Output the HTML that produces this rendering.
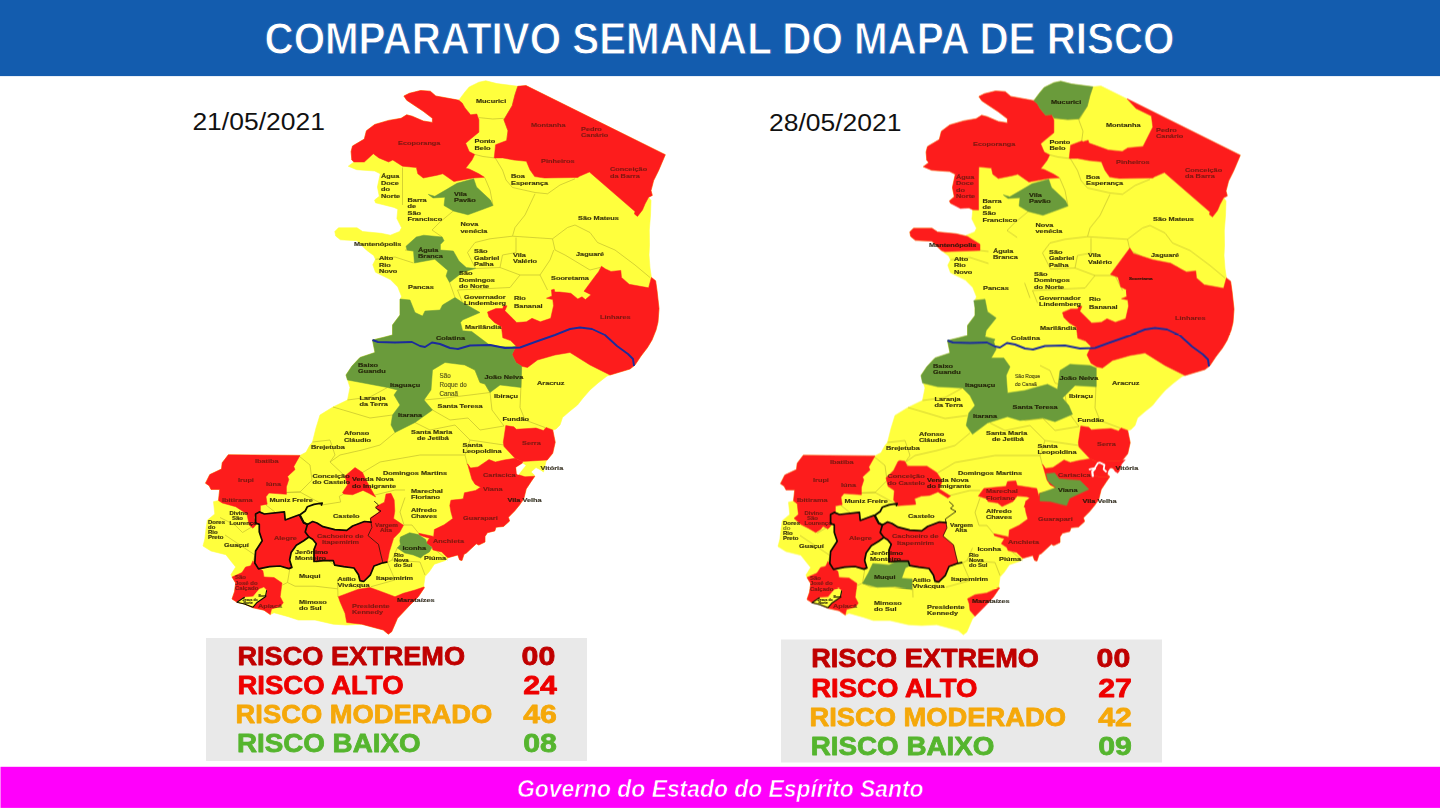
<!DOCTYPE html>
<html><head><meta charset="utf-8"><title>Comparativo Semanal do Mapa de Risco</title>
<style>
html,body{margin:0;padding:0;background:#fff;}
body{width:1440px;height:810px;overflow:hidden;font-family:"Liberation Sans",sans-serif;}
svg{display:block}
</style></head><body>
<svg width="1440" height="810" viewBox="0 0 1440 810">
<rect width="1440" height="810" fill="#ffffff"/>
<rect x="0" y="0" width="1440" height="76.1" fill="#135cae"/>
<text x="264.5" y="53.8" font-family="Liberation Sans, sans-serif" font-weight="bold" font-size="45" fill="#ffffff" stroke="#135cae" stroke-width="0.9" textLength="910" lengthAdjust="spacingAndGlyphs">COMPARATIVO SEMANAL DO MAPA DE RISCO</text>
<text x="192.4" y="130.3" font-family="Liberation Sans, sans-serif" font-size="23.5" fill="#111" textLength="132.5" lengthAdjust="spacingAndGlyphs">21/05/2021</text>
<text x="769" y="131.1" font-family="Liberation Sans, sans-serif" font-size="23.5" fill="#111" textLength="132.5" lengthAdjust="spacingAndGlyphs">28/05/2021</text>
<defs><filter id="soft" x="-2%" y="-2%" width="104%" height="104%"><feGaussianBlur stdDeviation="0.45"/></filter></defs>
<g id="map1" filter="url(#soft)">
<path d="M458.8,100.2 L465.0,91.9 L469.2,87.0 L478.9,82.2 L485.8,80.8 L496.9,83.6 L517.8,86.3 L526.0,85.6 L665.3,154.7 L658.5,170.7 L653.6,180.6 L651.0,190.5 L652.3,195.4 L648.6,197.3 L651.0,200.4 L650.5,215.0 L649.3,230.0 L649.5,245.0 L649.0,255.0 L650.0,268.0 L651.4,277.4 L655.6,280.8 L657.0,290.6 L659.0,308.6 L658.0,322.0 L656.0,330.0 L652.0,340.0 L647.5,347.5 L641.0,356.0 L635.0,365.0 L630.0,369.0 L620.0,372.0 L610.0,375.0 L607.0,376.0 L598.0,383.0 L590.0,390.0 L583.0,398.0 L577.5,405.0 L570.0,411.0 L562.5,417.5 L560.0,425.0 L556.0,429.0 L552.7,429.9 L555.2,442.2 L552.7,453.3 L547.2,460.0 L546.0,461.4 L543.5,471.9 L539.8,469.4 L536.0,467.5 L531.0,471.9 L533.6,474.3 L534.8,476.2 L531.0,481.7 L526.2,489.0 L523.7,499.0 L519.5,505.0 L514.6,511.0 L508.4,517.3 L509.6,521.0 L503.5,526.5 L496.0,527.2 L494.8,530.9 L487.4,532.7 L485.0,536.4 L485.0,542.0 L478.8,545.0 L476.3,543.8 L466.4,553.0 L464.0,554.3 L462.0,560.5 L459.6,559.9 L457.8,555.0 L449.0,557.4 L445.4,560.5 L434.3,564.2 L429.4,571.6 L425.0,576.5 L423.8,585.2 L424.4,587.7 L418.3,596.7 L410.0,605.0 L397.5,618.3 L391.7,631.7 L388.3,634.2 L383.3,630.0 L361.7,624.2 L346.7,625.0 L333.3,624.2 L315.0,620.0 L298.3,620.0 L288.3,616.7 L274.0,612.7 L270.3,614.6 L264.0,610.2 L253.0,607.8 L244.4,604.0 L237.0,602.2 L232.0,599.0 L234.5,591.7 L235.7,583.0 L232.0,577.0 L231.0,574.5 L235.7,567.0 L230.8,560.9 L225.9,554.7 L211.0,551.0 L203.0,546.0 L204.9,538.8 L206.0,529.0 L207.3,520.2 L214.8,514.0 L213.5,501.7 L218.5,500.5 L219.7,489.4 L211.0,489.4 L209.2,485.7 L205.5,483.2 L209.8,474.6 L221.5,469.0 L222.2,462.8 L228.3,454.8 L300.0,455.4 L306.0,452.3 L310.0,445.0 L312.5,442.0 L316.0,428.0 L320.0,415.0 L333.0,407.0 L347.5,400.0 L350.0,387.5 L346.0,375.0 L352.0,366.0 L360.0,357.5 L375.0,352.5 L372.5,340.0 L383.0,337.5 L392.5,335.0 L392.5,325.0 L400.0,315.0 L400.0,300.0 L401.5,296.3 L397.8,287.0 L390.4,279.6 L375.5,272.2 L372.8,264.8 L375.5,259.3 L373.7,255.5 L366.3,250.0 L357.0,240.7 L340.4,239.8 L335.7,236.0 L334.8,231.5 L338.5,227.8 L357.0,227.8 L362.6,231.5 L381.0,233.3 L390.4,235.2 L399.6,231.5 L401.5,227.8 L396.9,218.5 L397.8,209.3 L394.0,207.4 L375.5,202.8 L374.6,200.0 L379.3,196.3 L377.4,187.0 L380.3,173.8 L374.7,171.0 L356.7,169.7 L348.3,166.2 L353.9,162.0 L351.8,160.0 L351.1,151.6 L352.5,146.0 L364.3,139.1 L366.4,130.8 L374.7,124.5 L388.6,120.4 L401.1,118.3 L406.7,114.8 L412.2,116.2 L423.3,121.0 L432.4,122.4 L432.4,118.3 L423.3,111.3 L415.0,105.8 L406.7,100.2 L403.9,96.0 L409.4,93.3 L420.6,90.5 L430.3,91.2 L435.8,96.0 L451.1,98.8 Z" fill="#ffff3e" stroke="#ffff3e" stroke-width="0.6"/>
<g fill="none" stroke="#b9b42a" stroke-width="0.7" opacity="0.85"><path d="M474.7,154.4 L483.0,156.5 L494.2,157.9"/>
<path d="M478.9,117.6 L492.8,119.0 L503.9,118.3"/>
<path d="M517.8,86.3 L515.0,94.7 L512.2,105.8 L503.9,119.7 L508.0,130.8 L506.7,140.5"/>
<path d="M495.0,157.5 L502.5,170.0 L506.0,180.0 L512.5,187.5 L535.0,192.5 L547.5,193.8 L560.0,185.0 L575.0,178.8"/>
<path d="M535.0,193.8 L525.0,215.0 L515.0,227.5 L512.5,236.2"/>
<path d="M512.5,236.2 L490.0,238.8 L475.0,242.5 L467.5,252.5"/>
<path d="M512.5,236.2 L552.5,238.8 L567.5,227.5 L575.0,225.0 L590.0,232.5 L597.5,242.5 L615.0,250.0 L635.0,265.0 L650.0,277.5"/>
<path d="M552.5,238.8 L555.0,250.0 L565.0,255.0 L590.0,270.0 L600.0,267.5"/>
<path d="M516.0,237.5 L516.0,252.5 L502.5,255.0 L500.0,267.5"/>
<path d="M402.5,167.5 L402.5,205.0"/>
<path d="M484.8,177.8 L490.0,190.0 L493.0,205.5"/>
<path d="M453.3,211.0 L440.0,222.0 L432.0,230.0 L442.2,237.0"/>
<path d="M467.5,252.5 L475.5,268.5 L500.0,267.5 L520.0,275.0 L540.0,275.0 L550.0,260.0 L553.8,250.0"/>
<path d="M457.5,290.0 L510.0,287.5 L520.0,275.0"/>
<path d="M540.0,275.0 L547.5,290.0"/>
<path d="M449.6,282.4 L455.0,297.5"/>
<path d="M457.5,290.0 L462.5,302.5"/>
<path d="M405.0,250.0 L413.5,251.0"/>
<path d="M375.5,259.3 L395.0,257.0 L413.5,263.0"/>
<path d="M521.0,367.5 L521.0,385.0 L520.0,407.5 L525.0,420.0 L545.0,427.5"/>
<path d="M490.0,392.5 L492.0,410.0 L504.0,426.0"/>
<path d="M465.0,365.0 L475.0,370.0 L480.0,382.5 L485.0,384.0 L490.0,392.5"/>
<path d="M424.0,400.0 L445.0,398.0 L470.0,395.0 L490.0,392.5"/>
<path d="M432.5,410.0 L450.0,420.0 L468.0,418.0 L480.0,430.0 L504.0,426.0"/>
<path d="M347.5,400.0 L370.0,397.0 L387.5,387.5"/>
<path d="M392.5,415.0 L370.0,418.0 L350.0,412.0 L333.0,407.0"/>
<path d="M395.0,432.5 L380.0,445.0 L362.0,450.0 L340.0,455.0 L330.0,462.0"/>
<path d="M415.0,422.5 L430.0,430.0 L455.0,425.0 L470.0,440.0 L504.0,445.0"/>
<path d="M312.5,442.0 L330.0,440.0 L335.0,455.0 L330.0,462.0 L345.0,476.0"/>
<path d="M470.0,440.0 L465.0,455.0 L467.5,465.0"/>
<path d="M299.0,456.0 L310.0,465.0 L312.0,480.0 L300.0,492.0 L285.0,492.5"/>
<path d="M362.5,472.5 L380.0,462.0 L420.0,455.0 L465.0,455.0"/>
<path d="M375.0,495.0 L395.0,490.0 L405.0,490.0"/>
<path d="M405.0,497.5 L400.0,512.0 L404.0,525.0"/>
<path d="M465.0,497.5 L450.0,505.0"/>
<path d="M420.0,535.0 L412.0,525.0 L404.0,525.0"/>
<path d="M432.5,547.5 L447.5,560.0"/>
<path d="M397.5,547.5 L392.0,560.0 L387.5,562.5"/>
<path d="M392.0,560.0 L420.0,562.0 L425.0,575.0"/>
<path d="M387.5,562.5 L395.0,580.0 L371.0,586.7"/>
<path d="M363.5,581.0 L355.5,588.6"/>
<path d="M290.0,567.5 L287.5,582.5 L282.5,585.0"/>
<path d="M316.0,562.5 L327.5,560.0 L335.0,565.5"/>
<path d="M337.5,578.8 L338.0,597.0"/>
<path d="M287.5,582.5 L295.0,586.2 L315.0,586.2 L337.5,588.8"/>
<path d="M266.0,505.0 L285.0,520.0"/>
<path d="M255.0,525.0 L242.5,532.5 L235.0,525.0 L220.0,517.5"/>
<path d="M225.0,535.0 L240.0,545.0 L255.0,555.0"/>
<path d="M252.5,562.5 L255.0,555.0"/>
<path d="M285.0,492.5 L300.0,492.0 L321.0,503.5"/>
<path d="M232.0,470.0 L262.0,475.0 L266.0,490.0"/>
<path d="M262.0,475.0 L275.0,460.0"/>
<path d="M246.0,495.0 L267.5,494.0"/>
<path d="M321.5,505.0 L330.0,503.7 L340.7,502.0 L339.3,496.3 L343.7,494.0"/></g>
<path d="M458.8,100.2 L462.2,103.0 L465.0,107.9 L470.6,114.8 L476.8,114.0 L478.9,119.7 L478.9,132.2 L470.6,139.0 L465.7,143.3 L469.2,151.6 L474.7,154.4 L472.0,160.0 L465.7,168.3 L469.2,169.0 L478.9,173.8 L484.4,177.3 L473.3,178.0 L453.9,181.5 L442.8,173.8 L437.2,175.2 L423.3,178.0 L417.8,173.8 L416.4,167.6 L402.5,166.2 L392.8,160.0 L388.6,162.0 L378.9,157.9 L373.3,153.7 L364.3,162.0 L353.9,162.0 L351.8,160.0 L351.1,151.6 L352.5,146.0 L364.3,139.1 L366.4,130.8 L374.7,124.5 L388.6,120.4 L401.1,118.3 L406.7,114.8 L412.2,116.2 L423.3,121.0 L432.4,122.4 L432.4,118.3 L423.3,111.3 L415.0,105.8 L406.7,100.2 L403.9,96.0 L409.4,93.3 L420.6,90.5 L430.3,91.2 L435.8,96.0 L451.1,98.8 Z" fill="#fd1f1f" stroke="#fd1f1f" stroke-width="0.5" stroke-linejoin="round"/>
<path d="M517.8,86.3 L526.0,85.6 L665.3,154.7 L658.5,170.7 L653.6,180.6 L651.0,190.5 L652.3,195.4 L648.6,197.3 L645.0,204.0 L642.5,210.0 L637.5,216.4 L634.4,214.0 L635.0,211.5 L589.4,172.0 L579.5,176.3 L577.8,177.5 L544.4,178.0 L534.7,176.6 L529.9,169.7 L526.4,161.3 L513.9,160.0 L502.8,157.9 L494.2,158.0 L495.6,144.7 L506.7,140.5 L508.0,130.8 L503.9,119.7 L512.2,105.8 L515.0,94.7 Z" fill="#fd1f1f" stroke="#fd1f1f" stroke-width="0.5" stroke-linejoin="round"/>
<path d="M601.4,266.2 L605.6,269.0 L611.0,271.4 L620.8,270.4 L621.5,277.4 L629.2,284.3 L648.6,287.8 L651.4,277.4 L655.6,280.8 L657.0,290.6 L659.0,308.6 L658.0,322.0 L656.0,330.0 L652.0,340.0 L647.5,347.5 L641.0,356.0 L635.0,365.0 L630.0,369.0 L620.0,372.0 L610.0,375.0 L590.0,365.0 L570.0,352.5 L555.0,355.0 L537.5,360.0 L527.5,367.5 L521.7,366.3 L516.0,362.8 L512.0,354.4 L516.0,346.0 L510.6,340.6 L502.8,337.8 L501.4,326.7 L494.4,322.5 L488.9,317.0 L487.5,312.0 L495.8,308.6 L502.8,308.6 L503.5,305.8 L507.0,305.8 L504.9,310.7 L512.5,318.3 L516.7,322.5 L526.4,321.8 L532.0,318.3 L540.3,321.8 L550.7,318.3 L553.5,305.8 L552.8,299.6 L546.5,298.2 L552.0,296.0 L551.4,289.9 L554.2,289.2 L554.9,292.0 L559.7,292.0 L570.8,293.3 L577.8,298.9 L582.0,296.8 L585.4,299.6 L591.0,294.7 L584.0,291.2 L595.8,275.3 L598.6,271.8 Z" fill="#fd1f1f" stroke="#fd1f1f" stroke-width="0.5" stroke-linejoin="round"/>
<path d="M505.8,425.6 L513.8,426.8 L516.3,429.3 L536.0,428.0 L543.5,430.5 L546.0,427.4 L552.7,429.9 L555.2,442.2 L552.7,453.3 L547.2,460.0 L522.5,461.4 L515.0,458.3 L504.0,446.5 L503.3,442.2 Z" fill="#fd1f1f" stroke="#fd1f1f" stroke-width="0.5" stroke-linejoin="round"/>
<path d="M467.5,463.8 L470.6,468.0 L478.0,466.9 L489.0,459.5 L495.3,462.0 L504.0,460.0 L515.0,458.3 L522.5,461.4 L522.5,463.2 L515.7,467.5 L517.0,474.3 L525.0,476.8 L534.8,476.2 L531.0,481.7 L526.2,489.0 L523.7,499.0 L519.5,505.0 L514.6,511.0 L508.4,517.3 L509.6,521.0 L503.5,526.5 L496.0,527.2 L494.8,530.9 L487.4,532.7 L485.0,536.4 L485.0,542.0 L478.8,545.0 L476.3,543.8 L466.4,553.0 L464.0,554.3 L462.0,560.5 L459.6,559.9 L457.8,555.0 L449.0,557.4 L447.3,557.4 L441.7,551.9 L433.0,550.0 L431.9,547.0 L426.3,543.2 L429.4,538.3 L419.5,535.2 L418.9,533.3 L433.7,536.4 L434.3,529.6 L444.2,524.7 L452.8,518.5 L451.0,512.3 L449.8,505.6 L450.9,500.2 L463.2,499.0 L464.4,492.8 L475.6,490.4 L480.5,487.3 L475.0,484.2 L471.9,479.3 Z" fill="#fd1f1f" stroke="#fd1f1f" stroke-width="0.5" stroke-linejoin="round"/>
<path d="M228.3,454.8 L300.0,455.4 L293.8,466.5 L295.0,469.6 L287.6,476.4 L288.8,479.5 L286.4,486.9 L286.4,494.3 L269.0,493.0 L266.0,496.8 L267.2,504.2 L260.4,505.4 L260.4,512.8 L255.5,514.0 L254.3,517.8 L256.7,524.0 L253.0,528.3 L249.3,525.2 L246.9,514.0 L235.7,506.7 L222.2,503.0 L218.5,500.5 L219.7,489.4 L211.0,489.4 L209.2,485.7 L205.5,483.2 L209.8,474.6 L221.5,469.0 L222.2,462.8 Z" fill="#fd1f1f" stroke="#fd1f1f" stroke-width="0.5" stroke-linejoin="round"/>
<path d="M255.6,514.0 L259.3,511.9 L264.4,514.0 L284.4,511.9 L285.2,520.0 L299.3,514.8 L303.7,523.0 L307.4,524.4 L305.2,531.9 L308.9,537.0 L303.7,540.7 L296.3,545.2 L291.1,552.6 L289.6,560.0 L291.9,567.4 L288.9,568.6 L280.0,566.0 L269.6,566.7 L258.5,568.9 L254.8,563.0 L255.6,551.0 L262.2,540.7 L259.3,531.9 L259.3,524.4 L255.6,523.0 Z" fill="#fd1f1f" stroke="#fd1f1f" stroke-width="0.5" stroke-linejoin="round"/>
<path d="M307.4,524.4 L312.6,521.5 L317.0,523.0 L323.0,526.7 L334.8,529.6 L346.7,530.4 L352.6,526.0 L364.4,521.5 L371.0,522.2 L371.9,527.4 L368.0,535.6 L378.5,544.4 L380.7,554.0 L383.0,563.0 L374.0,566.0 L370.4,574.8 L363.7,581.5 L360.0,580.7 L358.5,574.8 L354.0,568.0 L343.7,566.7 L334.8,565.2 L333.3,560.7 L323.0,560.7 L314.0,561.5 L314.0,549.6 L316.3,543.7 L312.6,539.3 L308.9,537.0 L305.2,531.9 Z" fill="#fd1f1f" stroke="#fd1f1f" stroke-width="0.5" stroke-linejoin="round"/>
<path d="M371.0,522.2 L370.4,517.8 L379.3,511.9 L375.6,506.7 L384.4,502.2 L386.0,494.0 L391.0,493.3 L394.2,500.0 L394.8,511.0 L393.6,518.5 L403.5,525.3 L399.8,532.0 L393.6,538.3 L389.3,551.9 L387.4,562.3 L383.0,563.0 L380.7,554.0 L378.5,544.4 L368.0,535.6 L371.9,527.4 Z" fill="#fd1f1f" stroke="#fd1f1f" stroke-width="0.5" stroke-linejoin="round"/>
<path d="M345.0,476.0 L355.0,467.5 L362.5,472.5 L366.0,480.0 L370.4,488.0 L375.6,497.0 L368.9,493.3 L363.0,490.4 L352.6,494.8 L343.7,494.0 L342.5,492.5 L347.5,485.0 Z" fill="#fd1f1f" stroke="#fd1f1f" stroke-width="0.5" stroke-linejoin="round"/>
<path d="M253.0,560.9 L256.7,567.0 L262.9,570.7 L264.0,576.9 L274.0,577.5 L282.0,583.0 L280.2,596.7 L283.3,602.8 L280.2,606.5 L271.5,609.0 L270.3,614.6 L264.0,610.2 L253.0,607.8 L244.4,604.0 L237.0,602.2 L232.0,599.0 L234.5,591.7 L235.7,583.0 L232.0,577.0 L242.0,572.6 L245.6,567.0 L250.6,565.8 Z" fill="#fd1f1f" stroke="#fd1f1f" stroke-width="0.5" stroke-linejoin="round"/>
<path d="M338.3,596.7 L358.3,589.2 L370.0,587.5 L381.7,591.7 L395.0,596.7 L403.3,593.3 L415.0,590.0 L423.8,587.0 L424.4,587.7 L418.3,596.7 L410.0,605.0 L397.5,618.3 L391.7,631.7 L388.3,634.2 L383.3,630.0 L361.7,624.2 L346.7,622.5 L345.0,613.3 L340.0,601.7 Z" fill="#fd1f1f" stroke="#fd1f1f" stroke-width="0.5" stroke-linejoin="round"/>
<path d="M428.3,194.4 L434.8,196.3 L446.0,189.8 L457.0,183.3 L473.7,178.7 L476.5,187.0 L490.4,200.0 L493.0,205.5 L483.0,209.3 L468.0,214.8 L453.3,211.0 L444.0,205.5 L445.0,197.2 L433.0,198.0 Z" fill="#6b9b3b" stroke="#6b9b3b" stroke-width="0.5" stroke-linejoin="round"/>
<path d="M406.0,246.3 L416.3,237.0 L423.7,235.2 L442.2,237.0 L444.0,240.7 L440.4,244.4 L440.4,250.0 L453.3,251.0 L459.0,261.0 L466.3,267.6 L475.5,268.5 L462.6,272.2 L453.3,279.6 L449.6,282.4 L446.0,276.0 L447.8,270.4 L434.8,259.3 L414.4,263.0 L413.5,251.0 L407.0,250.0 Z" fill="#6b9b3b" stroke="#6b9b3b" stroke-width="0.5" stroke-linejoin="round"/>
<path d="M400.0,299.0 L410.0,300.0 L415.0,312.5 L422.5,316.0 L425.0,311.0 L440.0,310.0 L442.5,305.0 L455.0,297.5 L462.5,302.5 L480.0,312.5 L462.5,320.0 L460.5,322.5 L462.6,330.8 L471.7,331.5 L480.0,337.8 L488.3,344.0 L500.0,346.5 L512.0,347.0 L516.0,346.0 L512.0,354.4 L516.0,362.8 L521.7,366.3 L521.0,387.5 L500.0,385.0 L490.0,392.5 L485.0,384.0 L480.0,382.5 L475.0,370.0 L465.0,365.0 L445.0,362.5 L432.5,370.0 L431.0,390.0 L424.0,400.0 L432.5,410.0 L415.0,422.5 L395.0,432.5 L391.0,425.0 L392.5,415.0 L400.0,405.0 L394.0,395.0 L397.5,390.0 L387.5,387.5 L347.5,380.0 L346.0,375.0 L352.0,366.0 L360.0,357.5 L375.0,352.5 L372.5,340.0 L383.0,337.5 L392.5,335.0 L392.5,325.0 L400.0,315.0 Z" fill="#6b9b3b" stroke="#6b9b3b" stroke-width="0.5" stroke-linejoin="round"/>
<path d="M400.4,537.0 L409.6,532.7 L418.3,534.6 L425.7,539.5 L427.0,543.8 L431.9,547.5 L429.4,551.9 L423.2,555.6 L420.7,558.0 L413.3,555.0 L404.7,553.0 L397.3,548.0 L400.4,544.4 L399.8,540.7 Z" fill="#6b9b3b" stroke="#6b9b3b" stroke-width="0.5" stroke-linejoin="round"/>
<path d="M237.0,602.2 L244.4,597.3 L253.0,596.7 L259.2,589.3 L264.0,587.4 L266.6,590.5 L265.4,596.7 L256.7,602.8 L253.0,607.2 L244.4,604.0 Z" fill="#ffff3e" stroke="#ffff3e" stroke-width="0.5" stroke-linejoin="round"/>
<path d="M516.5,467.5 L522.8,463.5 L525.5,465.5 L521.0,471.0 L518.5,474.5 L517.0,474.0 Z" fill="#ffffff" stroke="#ffffff" stroke-width="0.5" stroke-linejoin="round"/>
<path d="M372.5,340.0 L378.0,342.0 L395.0,342.5 L412.0,342.0 L420.0,346.0 L425.0,347.0 L432.0,342.5 L440.0,344.0 L450.0,348.0 L458.0,349.0 L470.0,345.5 L490.0,345.0 L505.0,348.0 L520.0,347.5 L535.0,342.0 L555.0,335.0 L570.0,329.0 L580.0,327.5 L592.0,329.0 L605.0,335.0 L617.0,346.0 L628.0,354.0 L633.0,359.0 L634.0,366.0" fill="none" stroke="#1b2c9c" stroke-width="1.9" stroke-linejoin="round"/>
<g fill="none" stroke="#0c0a00" stroke-width="1.7" stroke-linejoin="round" stroke-linecap="round"><path d="M255.6,514.0 L259.3,511.9 L264.4,514.0 L284.4,511.9 L285.2,520.0 L299.3,514.8 L303.7,523.0 L307.4,524.4 L305.2,531.9 L308.9,537.0 L303.7,540.7 L296.3,545.2 L291.1,552.6 L289.6,560.0 L291.9,567.4 L288.9,568.6 L280.0,566.0 L269.6,566.7 L258.5,568.9 L254.8,563.0 L255.6,551.0 L262.2,540.7 L259.3,531.9 L259.3,524.4 L255.6,523.0 Z"/><path d="M308.9,537.0 L312.6,539.3 L316.3,543.7 L314.0,549.6 L314.0,561.5 L323.0,560.7 L333.3,560.7 L334.8,565.2 L343.7,566.7 L354.0,568.0 L358.5,574.8 L360.0,580.7 L363.7,581.5 L370.4,574.8 L374.0,566.0 L382.2,563.0 L386.7,562.2"/><path d="M307.4,524.4 L312.6,521.5 L317.0,523.0 L323.0,526.7 L334.8,529.6 L346.7,530.4 L352.6,526.0 L364.4,521.5 L371.0,522.2"/><path d="M307.4,524.4 L303.7,522.2 L300.0,514.8 L305.2,511.0 L307.4,506.7 L314.0,504.4 L322.2,503.0 L321.5,505.0"/><path d="M371.0,522.2 L371.9,527.4 L368.0,535.6 L378.5,544.4 L380.7,554.0 L383.0,563.0" stroke-width="0.7"/><path d="M371.0,522.2 L370.4,518.5 L376.0,514.5 L381.0,511.0 L375.5,508.0 L378.5,505.0 L374.5,501.5" stroke-width="0.8"/><path d="M266.6,590.5 L265.4,596.7 L256.7,602.8 L253.0,607.2 L244.4,604.0 L237.0,602.2 L244.4,597.3" stroke-width="1.1"/></g>
<g font-family="Liberation Sans, sans-serif" font-weight="bold" fill="#1a1400" stroke="#1a1400" stroke-width="0.18" opacity="0.86"><text transform="translate(375,526.6) scale(1.27,1)" font-size="5.0" opacity="0.62">Vargem</text>
<text transform="translate(380,531.6) scale(1.27,1)" font-size="5.0" opacity="0.62">Alta</text>
<text transform="translate(540.5,469.5) scale(1.27,1)" font-size="5.8">Vitória</text>
<text transform="translate(476,103) scale(1.27,1)" font-size="5.8">Mucurici</text>
<text transform="translate(398,145) scale(1.27,1)" font-size="5.8" opacity="0.62">Ecoporanga</text>
<text transform="translate(531,126.5) scale(1.27,1)" font-size="5.8" opacity="0.62">Montanha</text>
<text transform="translate(581,131) scale(1.27,1)" font-size="5.8" opacity="0.62">Pedro</text>
<text transform="translate(581,137) scale(1.27,1)" font-size="5.8" opacity="0.62">Canário</text>
<text transform="translate(474.5,143) scale(1.27,1)" font-size="5.8">Ponto</text>
<text transform="translate(474.5,149.5) scale(1.27,1)" font-size="5.8">Belo</text>
<text transform="translate(541,163) scale(1.27,1)" font-size="5.8" opacity="0.62">Pinheiros</text>
<text transform="translate(610,171) scale(1.27,1)" font-size="5.8" opacity="0.62">Conceição</text>
<text transform="translate(610,177.5) scale(1.27,1)" font-size="5.8" opacity="0.62">da Barra</text>
<text transform="translate(511,178) scale(1.27,1)" font-size="5.8">Boa</text>
<text transform="translate(511,184.5) scale(1.27,1)" font-size="5.8">Esperança</text>
<text transform="translate(381,178) scale(1.27,1)" font-size="5.8">Água</text>
<text transform="translate(381,184.5) scale(1.27,1)" font-size="5.8">Doce</text>
<text transform="translate(381,191) scale(1.27,1)" font-size="5.8">do</text>
<text transform="translate(381,197.5) scale(1.27,1)" font-size="5.8">Norte</text>
<text transform="translate(407.5,202) scale(1.27,1)" font-size="5.8">Barra</text>
<text transform="translate(407.5,208) scale(1.27,1)" font-size="5.8">de</text>
<text transform="translate(407.5,214.5) scale(1.27,1)" font-size="5.8">São</text>
<text transform="translate(407.5,221) scale(1.27,1)" font-size="5.8">Francisco</text>
<text transform="translate(454,196) scale(1.27,1)" font-size="5.8">Vila</text>
<text transform="translate(454,202) scale(1.27,1)" font-size="5.8">Pavão</text>
<text transform="translate(460.5,226) scale(1.27,1)" font-size="5.8">Nova</text>
<text transform="translate(460.5,232.5) scale(1.27,1)" font-size="5.8">venécia</text>
<text transform="translate(578,220) scale(1.27,1)" font-size="5.8">São Mateus</text>
<text transform="translate(354,246) scale(1.27,1)" font-size="5.8">Mantenópolis</text>
<text transform="translate(418,252) scale(1.27,1)" font-size="5.8">Águia</text>
<text transform="translate(418,258) scale(1.27,1)" font-size="5.8">Branca</text>
<text transform="translate(474,253) scale(1.27,1)" font-size="5.8">São</text>
<text transform="translate(474,259.5) scale(1.27,1)" font-size="5.8">Gabriel</text>
<text transform="translate(474,266) scale(1.27,1)" font-size="5.8">Palha</text>
<text transform="translate(513,256.5) scale(1.27,1)" font-size="5.8">Vila</text>
<text transform="translate(513,263) scale(1.27,1)" font-size="5.8">Valério</text>
<text transform="translate(576,256) scale(1.27,1)" font-size="5.8">Jaguaré</text>
<text transform="translate(379,260) scale(1.27,1)" font-size="5.8">Alto</text>
<text transform="translate(379,266.5) scale(1.27,1)" font-size="5.8">Rio</text>
<text transform="translate(379,273) scale(1.27,1)" font-size="5.8">Novo</text>
<text transform="translate(551,280) scale(1.27,1)" font-size="5.8">Sooretama</text>
<text transform="translate(459,275) scale(1.27,1)" font-size="5.8">São</text>
<text transform="translate(459,281.5) scale(1.27,1)" font-size="5.8">Domingos</text>
<text transform="translate(459,288) scale(1.27,1)" font-size="5.8">do Norte</text>
<text transform="translate(408,289) scale(1.27,1)" font-size="5.8">Pancas</text>
<text transform="translate(464,299) scale(1.27,1)" font-size="5.8">Governador</text>
<text transform="translate(464,305) scale(1.27,1)" font-size="5.8">Lindemberg</text>
<text transform="translate(514,300) scale(1.27,1)" font-size="5.8">Rio</text>
<text transform="translate(514,308) scale(1.27,1)" font-size="5.8">Bananal</text>
<text transform="translate(600,319) scale(1.27,1)" font-size="5.8" opacity="0.62">Linhares</text>
<text transform="translate(465,329) scale(1.27,1)" font-size="5.8">Marilândia</text>
<text transform="translate(436,339.5) scale(1.27,1)" font-size="5.8">Colatina</text>
<text transform="translate(358,367) scale(1.27,1)" font-size="5.8">Baixo</text>
<text transform="translate(358,373) scale(1.27,1)" font-size="5.8">Guandu</text>
<text transform="translate(390,386.5) scale(1.27,1)" font-size="5.8">Itaguaçu</text>
<text transform="translate(484.5,379) scale(1.27,1)" font-size="5.8">João Neiva</text>
<text transform="translate(537,384.5) scale(1.27,1)" font-size="5.8">Aracruz</text>
<text transform="translate(494,397.5) scale(1.27,1)" font-size="5.8">Ibiraçu</text>
<text transform="translate(359.5,400) scale(1.27,1)" font-size="5.8">Laranja</text>
<text transform="translate(359.5,406) scale(1.27,1)" font-size="5.8">da Terra</text>
<text transform="translate(437.5,408) scale(1.27,1)" font-size="5.8">Santa Teresa</text>
<text transform="translate(398,417) scale(1.27,1)" font-size="5.8">Itarana</text>
<text transform="translate(502.5,421) scale(1.27,1)" font-size="5.8">Fundão</text>
<text transform="translate(344,435) scale(1.27,1)" font-size="5.8">Afonso</text>
<text transform="translate(344,441.5) scale(1.27,1)" font-size="5.8">Cláudio</text>
<text transform="translate(411,434) scale(1.27,1)" font-size="5.8">Santa Maria</text>
<text transform="translate(417,440) scale(1.27,1)" font-size="5.8">de Jetibá</text>
<text transform="translate(462.5,447) scale(1.27,1)" font-size="5.8">Santa</text>
<text transform="translate(462.5,453) scale(1.27,1)" font-size="5.8">Leopoldina</text>
<text transform="translate(522,445) scale(1.27,1)" font-size="5.8" opacity="0.62">Serra</text>
<text transform="translate(311,449) scale(1.27,1)" font-size="5.8">Brejetuba</text>
<text transform="translate(255,463) scale(1.27,1)" font-size="5.8" opacity="0.62">Ibatiba</text>
<text transform="translate(238,481.5) scale(1.27,1)" font-size="5.8" opacity="0.62">Irupi</text>
<text transform="translate(266,486) scale(1.27,1)" font-size="5.8" opacity="0.62">Iúna</text>
<text transform="translate(222,501.5) scale(1.27,1)" font-size="5.8" opacity="0.62">Ibitirama</text>
<text transform="translate(269.5,502) scale(1.27,1)" font-size="5.8">Muniz Freire</text>
<text transform="translate(312.5,477.5) scale(1.27,1)" font-size="5.8">Conceição</text>
<text transform="translate(312.5,484) scale(1.27,1)" font-size="5.8">do Castelo</text>
<text transform="translate(352,481) scale(1.27,1)" font-size="5.8">Venda Nova</text>
<text transform="translate(352,487.5) scale(1.27,1)" font-size="5.8">do Imigrante</text>
<text transform="translate(383,474.5) scale(1.27,1)" font-size="5.8">Domingos Martins</text>
<text transform="translate(411,492.5) scale(1.27,1)" font-size="5.8">Marechal</text>
<text transform="translate(411,499) scale(1.27,1)" font-size="5.8">Floriano</text>
<text transform="translate(411,512) scale(1.27,1)" font-size="5.8">Alfredo</text>
<text transform="translate(411,518) scale(1.27,1)" font-size="5.8">Chaves</text>
<text transform="translate(483,476.5) scale(1.27,1)" font-size="5.8" opacity="0.62">Cariacica</text>
<text transform="translate(483,491) scale(1.27,1)" font-size="5.8" opacity="0.62">Viana</text>
<text transform="translate(507.5,502) scale(1.27,1)" font-size="5.8">Vila Velha</text>
<text transform="translate(463,520) scale(1.27,1)" font-size="5.8" opacity="0.62">Guarapari</text>
<text transform="translate(433,543) scale(1.27,1)" font-size="5.8" opacity="0.62">Anchieta</text>
<text transform="translate(333,517.5) scale(1.27,1)" font-size="5.8">Castelo</text>
<text transform="translate(274,539.5) scale(1.27,1)" font-size="5.8" opacity="0.62">Alegre</text>
<text transform="translate(317,537.5) scale(1.27,1)" font-size="5.8" opacity="0.62">Cachoeiro de</text>
<text transform="translate(322,544) scale(1.27,1)" font-size="5.8" opacity="0.62">Itapemirim</text>
<text transform="translate(295,554) scale(1.27,1)" font-size="5.8">Jerônimo</text>
<text transform="translate(295,560) scale(1.27,1)" font-size="5.8">Monteiro</text>
<text transform="translate(224,547) scale(1.27,1)" font-size="5.8">Guaçuí</text>
<text transform="translate(402.5,550) scale(1.27,1)" font-size="5.8">Iconha</text>
<text transform="translate(424,560) scale(1.27,1)" font-size="5.8">Piúma</text>
<text transform="translate(299,578) scale(1.27,1)" font-size="5.8">Muqui</text>
<text transform="translate(337.5,581) scale(1.27,1)" font-size="5.8">Atílio</text>
<text transform="translate(337.5,587) scale(1.27,1)" font-size="5.8">Vivácqua</text>
<text transform="translate(376,580) scale(1.27,1)" font-size="5.8">Itapemirim</text>
<text transform="translate(299,604) scale(1.27,1)" font-size="5.8">Mimoso</text>
<text transform="translate(299,610) scale(1.27,1)" font-size="5.8">do Sul</text>
<text transform="translate(352,608) scale(1.27,1)" font-size="5.8" opacity="0.62">Presidente</text>
<text transform="translate(352,614) scale(1.27,1)" font-size="5.8" opacity="0.62">Kennedy</text>
<text transform="translate(397,602) scale(1.27,1)" font-size="5.8">Marataízes</text>
<text transform="translate(258,607.5) scale(1.27,1)" font-size="5.8" opacity="0.62">Apiacá</text>
<text transform="translate(229.5,514.5) scale(1.2,1)" font-size="5.0">Divino</text>
<text transform="translate(232,519.5) scale(1.2,1)" font-size="5.0">São</text>
<text transform="translate(229.5,524.5) scale(1.2,1)" font-size="5.0">Lourenço</text>
<text transform="translate(208,524) scale(1.2,1)" font-size="5.0">Dores</text>
<text transform="translate(208,529) scale(1.2,1)" font-size="5.0">do</text>
<text transform="translate(208,534) scale(1.2,1)" font-size="5.0">Rio</text>
<text transform="translate(208,539) scale(1.2,1)" font-size="5.0">Preto</text>
<text transform="translate(394,556.5) scale(1.2,1)" font-size="5.0">Rio</text>
<text transform="translate(394,561.5) scale(1.2,1)" font-size="5.0">Nova</text>
<text transform="translate(394,566.5) scale(1.2,1)" font-size="5.0">do Sul</text>
<text transform="translate(235,579) scale(1.2,1)" font-size="5.0" opacity="0.62">São</text>
<text transform="translate(235,584.5) scale(1.2,1)" font-size="5.0" opacity="0.62">José do</text>
<text transform="translate(235,590) scale(1.2,1)" font-size="5.0" opacity="0.62">Calçado</text>
<text transform="translate(258.5,597.2) scale(1.1,1)" font-size="3.2">Bom</text>
<text transform="translate(242.5,600.6) scale(1.1,1)" font-size="3.2">Jesus do</text>
<text transform="translate(243.5,603.6) scale(1.1,1)" font-size="3.2">Norte</text>
<text transform="translate(439.5,378) scale(0.9,1)" font-size="7" font-weight="normal" fill="#555522">São</text>
<text transform="translate(439.5,387) scale(0.9,1)" font-size="7" font-weight="normal" fill="#555522">Roque do</text>
<text transform="translate(439.5,396) scale(0.9,1)" font-size="7" font-weight="normal" fill="#555522">Canaã</text></g>
</g>
<g id="map2" transform="translate(575,0.5)" filter="url(#soft)">
<path d="M458.8,100.2 L465.0,91.9 L469.2,87.0 L478.9,82.2 L485.8,80.8 L496.9,83.6 L517.8,86.3 L526.0,85.6 L665.3,154.7 L658.5,170.7 L653.6,180.6 L651.0,190.5 L652.3,195.4 L648.6,197.3 L651.0,200.4 L650.5,215.0 L649.3,230.0 L649.5,245.0 L649.0,255.0 L650.0,268.0 L651.4,277.4 L655.6,280.8 L657.0,290.6 L659.0,308.6 L658.0,322.0 L656.0,330.0 L652.0,340.0 L647.5,347.5 L641.0,356.0 L635.0,365.0 L630.0,369.0 L620.0,372.0 L610.0,375.0 L607.0,376.0 L598.0,383.0 L590.0,390.0 L583.0,398.0 L577.5,405.0 L570.0,411.0 L562.5,417.5 L560.0,425.0 L556.0,429.0 L552.7,429.9 L555.2,442.2 L552.7,453.3 L547.2,460.0 L546.0,461.4 L543.5,471.9 L539.8,469.4 L536.0,467.5 L531.0,471.9 L533.6,474.3 L534.8,476.2 L531.0,481.7 L526.2,489.0 L523.7,499.0 L519.5,505.0 L514.6,511.0 L508.4,517.3 L509.6,521.0 L503.5,526.5 L496.0,527.2 L494.8,530.9 L487.4,532.7 L485.0,536.4 L485.0,542.0 L478.8,545.0 L476.3,543.8 L466.4,553.0 L464.0,554.3 L462.0,560.5 L459.6,559.9 L457.8,555.0 L449.0,557.4 L445.4,560.5 L434.3,564.2 L429.4,571.6 L425.0,576.5 L423.8,585.2 L424.4,587.7 L418.3,596.7 L410.0,605.0 L397.5,618.3 L391.7,631.7 L388.3,634.2 L383.3,630.0 L361.7,624.2 L346.7,625.0 L333.3,624.2 L315.0,620.0 L298.3,620.0 L288.3,616.7 L274.0,612.7 L270.3,614.6 L264.0,610.2 L253.0,607.8 L244.4,604.0 L237.0,602.2 L232.0,599.0 L234.5,591.7 L235.7,583.0 L232.0,577.0 L231.0,574.5 L235.7,567.0 L230.8,560.9 L225.9,554.7 L211.0,551.0 L203.0,546.0 L204.9,538.8 L206.0,529.0 L207.3,520.2 L214.8,514.0 L213.5,501.7 L218.5,500.5 L219.7,489.4 L211.0,489.4 L209.2,485.7 L205.5,483.2 L209.8,474.6 L221.5,469.0 L222.2,462.8 L228.3,454.8 L300.0,455.4 L306.0,452.3 L310.0,445.0 L312.5,442.0 L316.0,428.0 L320.0,415.0 L333.0,407.0 L347.5,400.0 L350.0,387.5 L346.0,375.0 L352.0,366.0 L360.0,357.5 L375.0,352.5 L372.5,340.0 L383.0,337.5 L392.5,335.0 L392.5,325.0 L400.0,315.0 L400.0,300.0 L401.5,296.3 L397.8,287.0 L390.4,279.6 L375.5,272.2 L372.8,264.8 L375.5,259.3 L373.7,255.5 L366.3,250.0 L357.0,240.7 L340.4,239.8 L335.7,236.0 L334.8,231.5 L338.5,227.8 L357.0,227.8 L362.6,231.5 L381.0,233.3 L390.4,235.2 L399.6,231.5 L401.5,227.8 L396.9,218.5 L397.8,209.3 L394.0,207.4 L375.5,202.8 L374.6,200.0 L379.3,196.3 L377.4,187.0 L380.3,173.8 L374.7,171.0 L356.7,169.7 L348.3,166.2 L353.9,162.0 L351.8,160.0 L351.1,151.6 L352.5,146.0 L364.3,139.1 L366.4,130.8 L374.7,124.5 L388.6,120.4 L401.1,118.3 L406.7,114.8 L412.2,116.2 L423.3,121.0 L432.4,122.4 L432.4,118.3 L423.3,111.3 L415.0,105.8 L406.7,100.2 L403.9,96.0 L409.4,93.3 L420.6,90.5 L430.3,91.2 L435.8,96.0 L451.1,98.8 Z" fill="#ffff3e" stroke="#ffff3e" stroke-width="0.6"/>
<g fill="none" stroke="#b9b42a" stroke-width="0.7" opacity="0.85"><path d="M474.7,154.4 L483.0,156.5 L494.2,157.9"/>
<path d="M478.9,117.6 L492.8,119.0 L503.9,118.3"/>
<path d="M517.8,86.3 L515.0,94.7 L512.2,105.8 L503.9,119.7 L508.0,130.8 L506.7,140.5"/>
<path d="M495.0,157.5 L502.5,170.0 L506.0,180.0 L512.5,187.5 L535.0,192.5 L547.5,193.8 L560.0,185.0 L575.0,178.8"/>
<path d="M535.0,193.8 L525.0,215.0 L515.0,227.5 L512.5,236.2"/>
<path d="M512.5,236.2 L490.0,238.8 L475.0,242.5 L467.5,252.5"/>
<path d="M512.5,236.2 L552.5,238.8 L567.5,227.5 L575.0,225.0 L590.0,232.5 L597.5,242.5 L615.0,250.0 L635.0,265.0 L650.0,277.5"/>
<path d="M552.5,238.8 L555.0,250.0 L565.0,255.0 L590.0,270.0 L600.0,267.5"/>
<path d="M516.0,237.5 L516.0,252.5 L502.5,255.0 L500.0,267.5"/>
<path d="M402.5,167.5 L402.5,205.0"/>
<path d="M484.8,177.8 L490.0,190.0 L493.0,205.5"/>
<path d="M453.3,211.0 L440.0,222.0 L432.0,230.0 L442.2,237.0"/>
<path d="M467.5,252.5 L475.5,268.5 L500.0,267.5 L520.0,275.0 L540.0,275.0 L550.0,260.0 L553.8,250.0"/>
<path d="M457.5,290.0 L510.0,287.5 L520.0,275.0"/>
<path d="M540.0,275.0 L547.5,290.0"/>
<path d="M449.6,282.4 L455.0,297.5"/>
<path d="M457.5,290.0 L462.5,302.5"/>
<path d="M405.0,250.0 L413.5,251.0"/>
<path d="M375.5,259.3 L395.0,257.0 L413.5,263.0"/>
<path d="M521.0,367.5 L521.0,385.0 L520.0,407.5 L525.0,420.0 L545.0,427.5"/>
<path d="M490.0,392.5 L492.0,410.0 L504.0,426.0"/>
<path d="M465.0,365.0 L475.0,370.0 L480.0,382.5 L485.0,384.0 L490.0,392.5"/>
<path d="M424.0,400.0 L445.0,398.0 L470.0,395.0 L490.0,392.5"/>
<path d="M432.5,410.0 L450.0,420.0 L468.0,418.0 L480.0,430.0 L504.0,426.0"/>
<path d="M347.5,400.0 L370.0,397.0 L387.5,387.5"/>
<path d="M392.5,415.0 L370.0,418.0 L350.0,412.0 L333.0,407.0"/>
<path d="M395.0,432.5 L380.0,445.0 L362.0,450.0 L340.0,455.0 L330.0,462.0"/>
<path d="M415.0,422.5 L430.0,430.0 L455.0,425.0 L470.0,440.0 L504.0,445.0"/>
<path d="M312.5,442.0 L330.0,440.0 L335.0,455.0 L330.0,462.0 L345.0,476.0"/>
<path d="M470.0,440.0 L465.0,455.0 L467.5,465.0"/>
<path d="M299.0,456.0 L310.0,465.0 L312.0,480.0 L300.0,492.0 L285.0,492.5"/>
<path d="M362.5,472.5 L380.0,462.0 L420.0,455.0 L465.0,455.0"/>
<path d="M375.0,495.0 L395.0,490.0 L405.0,490.0"/>
<path d="M405.0,497.5 L400.0,512.0 L404.0,525.0"/>
<path d="M465.0,497.5 L450.0,505.0"/>
<path d="M420.0,535.0 L412.0,525.0 L404.0,525.0"/>
<path d="M432.5,547.5 L447.5,560.0"/>
<path d="M397.5,547.5 L392.0,560.0 L387.5,562.5"/>
<path d="M392.0,560.0 L420.0,562.0 L425.0,575.0"/>
<path d="M387.5,562.5 L395.0,580.0 L371.0,586.7"/>
<path d="M363.5,581.0 L355.5,588.6"/>
<path d="M290.0,567.5 L287.5,582.5 L282.5,585.0"/>
<path d="M316.0,562.5 L327.5,560.0 L335.0,565.5"/>
<path d="M337.5,578.8 L338.0,597.0"/>
<path d="M287.5,582.5 L295.0,586.2 L315.0,586.2 L337.5,588.8"/>
<path d="M266.0,505.0 L285.0,520.0"/>
<path d="M255.0,525.0 L242.5,532.5 L235.0,525.0 L220.0,517.5"/>
<path d="M225.0,535.0 L240.0,545.0 L255.0,555.0"/>
<path d="M252.5,562.5 L255.0,555.0"/>
<path d="M285.0,492.5 L300.0,492.0 L321.0,503.5"/>
<path d="M232.0,470.0 L262.0,475.0 L266.0,490.0"/>
<path d="M262.0,475.0 L275.0,460.0"/>
<path d="M246.0,495.0 L267.5,494.0"/>
<path d="M321.5,505.0 L330.0,503.7 L340.7,502.0 L339.3,496.3 L343.7,494.0"/></g>
<path d="M458.8,100.2 L462.2,103.0 L465.0,107.9 L470.6,114.8 L476.8,114.0 L478.9,119.7 L478.9,132.2 L470.6,139.0 L465.7,143.3 L469.2,151.6 L474.7,154.4 L472.0,160.0 L465.7,168.3 L469.2,169.0 L478.9,173.8 L484.4,177.3 L473.3,178.0 L453.9,181.5 L442.8,173.8 L437.2,175.2 L423.3,178.0 L417.8,173.8 L416.4,167.6 L402.5,166.2 L392.8,160.0 L388.6,162.0 L378.9,157.9 L373.3,153.7 L364.3,162.0 L353.9,162.0 L351.8,160.0 L351.1,151.6 L352.5,146.0 L364.3,139.1 L366.4,130.8 L374.7,124.5 L388.6,120.4 L401.1,118.3 L406.7,114.8 L412.2,116.2 L423.3,121.0 L432.4,122.4 L432.4,118.3 L423.3,111.3 L415.0,105.8 L406.7,100.2 L403.9,96.0 L409.4,93.3 L420.6,90.5 L430.3,91.2 L435.8,96.0 L451.1,98.8 Z" fill="#fd1f1f" stroke="#fd1f1f" stroke-width="0.5" stroke-linejoin="round"/>
<path d="M353.9,162.0 L354.0,157.0 L370.0,148.0 L390.0,152.0 L404.0,160.0 L403.6,180.0 L403.6,209.4 L397.8,209.3 L394.0,207.4 L385.5,208.0 L375.5,202.8 L374.4,200.4 L379.3,196.3 L377.4,187.0 L380.3,173.8 L374.7,171.0 L356.7,169.7 L348.3,166.2 Z" fill="#fd1f1f" stroke="#fd1f1f" stroke-width="0.5" stroke-linejoin="round"/>
<path d="M334.8,231.5 L338.5,227.8 L357.0,227.8 L362.6,231.5 L381.0,233.3 L392.5,236.0 L405.0,243.8 L405.0,250.0 L370.0,251.2 L366.3,250.0 L357.0,240.7 L340.4,239.8 L335.7,236.0 Z" fill="#fd1f1f" stroke="#fd1f1f" stroke-width="0.5" stroke-linejoin="round"/>
<path d="M552.0,98.2 L665.3,154.7 L658.5,170.7 L653.6,180.6 L651.0,190.5 L652.3,195.4 L648.6,197.3 L645.0,204.0 L642.5,210.0 L637.5,216.4 L634.4,214.0 L635.0,211.5 L589.4,172.0 L579.5,176.3 L577.8,177.5 L544.4,178.0 L534.7,176.6 L529.9,169.7 L526.4,161.3 L513.9,160.0 L502.8,157.9 L494.2,158.0 L495.6,144.7 L506.7,140.5 L508.3,141.2 L513.2,139.8 L513.9,142.6 L533.3,149.5 L547.2,150.9 L552.8,147.4 L568.0,146.0 L577.8,126.6 L576.4,115.5 L561.0,107.9 Z" fill="#fd1f1f" stroke="#fd1f1f" stroke-width="0.5" stroke-linejoin="round"/>
<path d="M601.4,266.2 L605.6,269.0 L611.0,271.4 L620.8,270.4 L621.5,277.4 L629.2,284.3 L648.6,287.8 L651.4,277.4 L655.6,280.8 L657.0,290.6 L659.0,308.6 L658.0,322.0 L656.0,330.0 L652.0,340.0 L647.5,347.5 L641.0,356.0 L635.0,365.0 L630.0,369.0 L620.0,372.0 L610.0,375.0 L590.0,365.0 L570.0,352.5 L555.0,355.0 L537.5,360.0 L527.5,367.5 L521.7,366.3 L516.0,362.8 L512.0,354.4 L516.0,346.0 L510.6,340.6 L502.8,337.8 L501.4,326.7 L494.4,322.5 L488.9,317.0 L487.5,312.0 L495.8,308.6 L502.8,308.6 L503.5,305.8 L507.0,305.8 L504.9,310.7 L512.5,318.3 L516.7,322.5 L526.4,321.8 L532.0,318.3 L540.3,321.8 L550.7,318.3 L553.5,305.8 L552.8,299.6 L546.5,298.2 L552.0,296.0 L551.4,289.9 L554.2,289.2 L554.9,292.0 L559.7,292.0 L570.8,293.3 L577.8,298.9 L582.0,296.8 L585.4,299.6 L591.0,294.7 L584.0,291.2 L595.8,275.3 L598.6,271.8 Z" fill="#fd1f1f" stroke="#fd1f1f" stroke-width="0.5" stroke-linejoin="round"/>
<path d="M535.4,273.9 L554.9,247.5 L558.3,253.0 L577.8,259.3 L595.8,262.8 L611.0,271.4 L611.0,285.0 L600.0,305.0 L570.0,305.0 L556.0,300.0 L552.0,296.0 L551.4,289.9 L551.4,289.2 L545.8,286.4 L543.0,276.7 Z" fill="#fd1f1f" stroke="#fd1f1f" stroke-width="0.5" stroke-linejoin="round"/>
<path d="M505.8,425.6 L513.8,426.8 L516.3,429.3 L536.0,428.0 L543.5,430.5 L546.0,427.4 L552.7,429.9 L555.2,442.2 L552.7,453.3 L547.2,460.0 L522.5,461.4 L515.0,458.3 L504.0,446.5 L503.3,442.2 Z" fill="#fd1f1f" stroke="#fd1f1f" stroke-width="0.5" stroke-linejoin="round"/>
<path d="M467.5,463.8 L470.6,468.0 L478.0,466.9 L489.0,459.5 L495.3,462.0 L504.0,460.0 L515.0,458.3 L522.5,461.4 L522.5,463.2 L515.7,467.5 L517.0,474.3 L525.0,476.8 L534.8,476.2 L531.0,481.7 L526.2,489.0 L523.7,499.0 L519.5,505.0 L514.6,511.0 L508.4,517.3 L509.6,521.0 L503.5,526.5 L496.0,527.2 L494.8,530.9 L487.4,532.7 L485.0,536.4 L485.0,542.0 L478.8,545.0 L476.3,543.8 L466.4,553.0 L464.0,554.3 L462.0,560.5 L459.6,559.9 L457.8,555.0 L449.0,557.4 L447.3,557.4 L441.7,551.9 L433.0,550.0 L431.9,547.0 L426.3,543.2 L429.4,538.3 L419.5,535.2 L418.9,533.3 L433.7,536.4 L434.3,529.6 L444.2,524.7 L452.8,518.5 L451.0,512.3 L449.8,505.6 L450.9,500.2 L463.2,499.0 L464.4,492.8 L475.6,490.4 L480.5,487.3 L475.0,484.2 L471.9,479.3 Z" fill="#fd1f1f" stroke="#fd1f1f" stroke-width="0.5" stroke-linejoin="round"/>
<path d="M228.3,454.8 L300.0,455.4 L293.8,466.5 L295.0,469.6 L287.6,476.4 L288.8,479.5 L286.4,486.9 L286.4,494.3 L269.0,493.0 L266.0,496.8 L267.2,504.2 L260.4,505.4 L260.4,512.8 L255.5,514.0 L254.3,517.8 L256.7,524.0 L253.0,528.3 L249.3,525.2 L246.9,514.0 L235.7,506.7 L222.2,503.0 L218.5,500.5 L219.7,489.4 L211.0,489.4 L209.2,485.7 L205.5,483.2 L209.8,474.6 L221.5,469.0 L222.2,462.8 Z" fill="#fd1f1f" stroke="#fd1f1f" stroke-width="0.5" stroke-linejoin="round"/>
<path d="M220.0,501.0 L240.0,505.0 L258.0,512.0 L256.7,524.0 L253.0,528.3 L248.0,525.8 L245.6,528.9 L240.7,532.0 L233.3,527.7 L225.9,524.0 L219.0,517.8 L223.4,514.0 L222.2,503.0 Z" fill="#fd1f1f" stroke="#fd1f1f" stroke-width="0.5" stroke-linejoin="round"/>
<path d="M255.6,514.0 L259.3,511.9 L264.4,514.0 L284.4,511.9 L285.2,520.0 L299.3,514.8 L303.7,523.0 L307.4,524.4 L305.2,531.9 L308.9,537.0 L303.7,540.7 L296.3,545.2 L291.1,552.6 L289.6,560.0 L291.9,567.4 L288.9,568.6 L280.0,566.0 L269.6,566.7 L258.5,568.9 L254.8,563.0 L255.6,551.0 L262.2,540.7 L259.3,531.9 L259.3,524.4 L255.6,523.0 Z" fill="#fd1f1f" stroke="#fd1f1f" stroke-width="0.5" stroke-linejoin="round"/>
<path d="M307.4,524.4 L312.6,521.5 L317.0,523.0 L323.0,526.7 L334.8,529.6 L346.7,530.4 L352.6,526.0 L364.4,521.5 L371.0,522.2 L371.9,527.4 L368.0,535.6 L378.5,544.4 L380.7,554.0 L383.0,563.0 L374.0,566.0 L370.4,574.8 L363.7,581.5 L360.0,580.7 L358.5,574.8 L354.0,568.0 L343.7,566.7 L334.8,565.2 L333.3,560.7 L323.0,560.7 L314.0,561.5 L314.0,549.6 L316.3,543.7 L312.6,539.3 L308.9,537.0 L305.2,531.9 Z" fill="#fd1f1f" stroke="#fd1f1f" stroke-width="0.5" stroke-linejoin="round"/>
<path d="M324.9,460.1 L329.7,460.8 L332.5,465.7 L352.0,465.7 L361.7,472.0 L367.2,480.3 L364.4,488.6 L375.6,495.6 L372.8,497.6 L363.0,491.4 L354.7,494.9 L346.4,495.6 L339.4,498.3 L340.8,503.9 L322.8,505.3 L318.6,499.7 L319.3,490.0 L313.0,485.8 L311.0,477.5 L318.6,469.9 L323.0,461.0 Z" fill="#fd1f1f" stroke="#fd1f1f" stroke-width="0.5" stroke-linejoin="round"/>
<path d="M403.3,495.6 L408.9,487.9 L431.0,485.8 L432.5,481.0 L440.8,480.3 L442.2,485.1 L461.7,487.9 L463.8,495.6 L465.0,500.4 L452.0,505.3 L449.0,506.7 L452.0,499.7 L454.7,497.6 L452.0,496.2 L442.2,495.6 L438.0,501.0 L427.0,506.0 L422.8,502.5 L413.0,501.0 L411.7,498.3 Z" fill="#fd1f1f" stroke="#fd1f1f" stroke-width="0.5" stroke-linejoin="round"/>
<path d="M253.0,560.9 L256.7,567.0 L262.9,570.7 L264.0,576.9 L274.0,577.5 L282.0,583.0 L280.2,596.7 L283.3,602.8 L280.2,606.5 L271.5,609.0 L270.3,614.6 L264.0,610.2 L253.0,607.8 L244.4,604.0 L237.0,602.2 L232.0,599.0 L234.5,591.7 L235.7,583.0 L232.0,577.0 L242.0,572.6 L245.6,567.0 L250.6,565.8 Z" fill="#fd1f1f" stroke="#fd1f1f" stroke-width="0.5" stroke-linejoin="round"/>
<path d="M392.5,598.3 L400.0,594.2 L411.7,592.5 L423.8,587.0 L424.4,587.7 L418.3,596.7 L410.0,605.8 L400.0,615.8 L395.0,610.0 L394.2,603.3 Z" fill="#fd1f1f" stroke="#fd1f1f" stroke-width="0.5" stroke-linejoin="round"/>
<path d="M458.8,100.2 L465.0,91.9 L469.2,87.0 L478.9,82.2 L485.8,80.8 L496.9,83.6 L517.8,86.3 L515.0,94.7 L512.2,105.8 L503.9,118.3 L492.8,119.0 L478.9,117.6 L476.8,114.0 L470.6,114.8 L465.0,107.9 L462.2,103.0 Z" fill="#6b9b3b" stroke="#6b9b3b" stroke-width="0.5" stroke-linejoin="round"/>
<path d="M428.3,194.4 L434.8,196.3 L446.0,189.8 L457.0,183.3 L473.7,178.7 L476.5,187.0 L490.4,200.0 L493.0,205.5 L483.0,209.3 L468.0,214.8 L453.3,211.0 L444.0,205.5 L445.0,197.2 L433.0,198.0 Z" fill="#6b9b3b" stroke="#6b9b3b" stroke-width="0.5" stroke-linejoin="round"/>
<path d="M398.8,300.0 L410.0,298.8 L412.5,311.2 L421.2,317.5 L411.2,330.0 L410.0,336.2 L420.0,338.8 L418.8,341.2 L421.2,348.8 L416.2,357.5 L428.8,357.5 L435.0,366.2 L431.2,375.0 L432.5,392.5 L450.0,390.0 L472.5,383.8 L482.5,388.8 L485.0,370.0 L495.0,363.8 L515.0,365.0 L521.2,367.5 L521.2,386.2 L500.0,385.0 L487.5,397.5 L493.8,405.0 L497.5,413.8 L480.0,421.2 L467.5,417.5 L445.0,420.0 L432.5,416.2 L412.5,422.5 L397.5,433.8 L391.2,425.0 L393.8,412.5 L400.0,405.0 L395.0,395.0 L387.5,387.5 L362.5,386.2 L347.5,382.5 L346.0,375.0 L352.0,366.0 L360.0,357.5 L375.0,352.5 L372.5,340.0 L383.0,337.5 L392.5,335.0 L392.5,325.0 L400.0,315.0 L400.0,307.5 Z" fill="#6b9b3b" stroke="#6b9b3b" stroke-width="0.5" stroke-linejoin="round"/>
<path d="M471.4,473.3 L479.7,472.6 L484.2,478.5 L505.0,480.0 L513.8,488.8 L494.6,497.7 L491.6,505.0 L489.4,504.6 L475.6,501.0 L465.0,500.4 L465.0,492.8 L481.0,487.2 L472.8,480.3 Z" fill="#6b9b3b" stroke="#6b9b3b" stroke-width="0.5" stroke-linejoin="round"/>
<path d="M287.4,583.0 L293.3,572.6 L297.8,563.0 L314.0,564.4 L322.2,560.7 L334.8,560.7 L334.8,565.2 L330.4,567.4 L326.7,577.8 L337.0,578.5 L337.0,588.9 L320.0,586.0 L302.2,586.7 Z" fill="#6b9b3b" stroke="#6b9b3b" stroke-width="0.5" stroke-linejoin="round"/>
<path d="M237.0,602.2 L244.4,597.3 L253.0,596.7 L259.2,589.3 L264.0,587.4 L266.6,590.5 L265.4,596.7 L256.7,602.8 L253.0,607.2 L244.4,604.0 Z" fill="#ffff3e" stroke="#ffff3e" stroke-width="0.5" stroke-linejoin="round"/>
<path d="M458.8,100.2 L465.0,91.9 L469.2,87.0 L478.9,82.2 L485.8,80.8 L496.9,83.6 L517.8,86.3 L526.0,85.6 L665.3,154.7 L658.5,170.7 L653.6,180.6 L651.0,190.5 L652.3,195.4 L648.6,197.3 L651.0,200.4 L650.5,215.0 L649.3,230.0 L649.5,245.0 L649.0,255.0 L650.0,268.0 L651.4,277.4 L655.6,280.8 L657.0,290.6 L659.0,308.6 L658.0,322.0 L656.0,330.0 L652.0,340.0 L647.5,347.5 L641.0,356.0 L635.0,365.0 L630.0,369.0 L620.0,372.0 L610.0,375.0 L607.0,376.0 L598.0,383.0 L590.0,390.0 L583.0,398.0 L577.5,405.0 L570.0,411.0 L562.5,417.5 L560.0,425.0 L556.0,429.0 L552.7,429.9 L555.2,442.2 L552.7,453.3 L547.2,460.0 L546.0,461.4 L543.5,471.9 L539.8,469.4 L536.0,467.5 L531.0,471.9 L533.6,474.3 L534.8,476.2 L531.0,481.7 L526.2,489.0 L523.7,499.0 L519.5,505.0 L514.6,511.0 L508.4,517.3 L509.6,521.0 L503.5,526.5 L496.0,527.2 L494.8,530.9 L487.4,532.7 L485.0,536.4 L485.0,542.0 L478.8,545.0 L476.3,543.8 L466.4,553.0 L464.0,554.3 L462.0,560.5 L459.6,559.9 L457.8,555.0 L449.0,557.4 L445.4,560.5 L434.3,564.2 L429.4,571.6 L425.0,576.5 L423.8,585.2 L424.4,587.7 L418.3,596.7 L410.0,605.0 L397.5,618.3 L391.7,631.7 L388.3,634.2 L383.3,630.0 L361.7,624.2 L346.7,625.0 L333.3,624.2 L315.0,620.0 L298.3,620.0 L288.3,616.7 L274.0,612.7 L270.3,614.6 L264.0,610.2 L253.0,607.8 L244.4,604.0 L237.0,602.2 L232.0,599.0 L234.5,591.7 L235.7,583.0 L232.0,577.0 L231.0,574.5 L235.7,567.0 L230.8,560.9 L225.9,554.7 L211.0,551.0 L203.0,546.0 L204.9,538.8 L206.0,529.0 L207.3,520.2 L214.8,514.0 L213.5,501.7 L218.5,500.5 L219.7,489.4 L211.0,489.4 L209.2,485.7 L205.5,483.2 L209.8,474.6 L221.5,469.0 L222.2,462.8 L228.3,454.8 L300.0,455.4 L306.0,452.3 L310.0,445.0 L312.5,442.0 L316.0,428.0 L320.0,415.0 L333.0,407.0 L347.5,400.0 L350.0,387.5 L346.0,375.0 L352.0,366.0 L360.0,357.5 L375.0,352.5 L372.5,340.0 L383.0,337.5 L392.5,335.0 L392.5,325.0 L400.0,315.0 L400.0,300.0 L401.5,296.3 L397.8,287.0 L390.4,279.6 L375.5,272.2 L372.8,264.8 L375.5,259.3 L373.7,255.5 L366.3,250.0 L357.0,240.7 L340.4,239.8 L335.7,236.0 L334.8,231.5 L338.5,227.8 L357.0,227.8 L362.6,231.5 L381.0,233.3 L390.4,235.2 L399.6,231.5 L401.5,227.8 L396.9,218.5 L397.8,209.3 L394.0,207.4 L375.5,202.8 L374.6,200.0 L379.3,196.3 L377.4,187.0 L380.3,173.8 L374.7,171.0 L356.7,169.7 L348.3,166.2 L353.9,162.0 L351.8,160.0 L351.1,151.6 L352.5,146.0 L364.3,139.1 L366.4,130.8 L374.7,124.5 L388.6,120.4 L401.1,118.3 L406.7,114.8 L412.2,116.2 L423.3,121.0 L432.4,122.4 L432.4,118.3 L423.3,111.3 L415.0,105.8 L406.7,100.2 L403.9,96.0 L409.4,93.3 L420.6,90.5 L430.3,91.2 L435.8,96.0 L451.1,98.8 Z" fill="none" stroke="none"/>
<path d="M531.0,471.9 L536.0,467.5 L539.8,469.4 L543.5,471.9 L546.0,461.4 L552.0,461.0 L552.0,480.0 L536.0,480.0 L534.8,476.2 L533.6,474.3 Z" fill="#ffffff"/>
<path d="M522.5,461.4 L547.2,460.0 L550.2,459.3 L546.5,463.7 L544.3,470.4 L542.8,472.6 L540.2,471.0 L538.3,468.0 L536.0,467.5 L533.0,470.4 L532.4,474.0 L534.8,476.2 L525.0,476.8 L517.0,474.3 L515.7,467.5 Z" fill="#fd1f1f" stroke="#fd1f1f" stroke-width="0.5" stroke-linejoin="round"/>
<path d="M514.6,468.8 L519.8,467.6 L522.8,462.6 L525.0,462.2 L529.4,464.4 L528.7,468.9 L531.0,471.0" fill="none" stroke="#ffffff" stroke-width="1.8" stroke-linejoin="round" stroke-linecap="round"/>
<path d="M520.0,468.0 L517.3,471.0 L517.8,475.5" fill="none" stroke="#ffffff" stroke-width="2.2" stroke-linejoin="round" stroke-linecap="round"/>
<circle cx="536" cy="469.3" r="1.6" fill="#ffffff"/>
<path d="M372.5,340.0 L378.0,342.0 L395.0,342.5 L412.0,342.0 L420.0,346.0 L425.0,347.0 L432.0,342.5 L440.0,344.0 L450.0,348.0 L458.0,349.0 L470.0,345.5 L490.0,345.0 L505.0,348.0 L520.0,347.5 L535.0,342.0 L555.0,335.0 L570.0,329.0 L580.0,327.5 L592.0,329.0 L605.0,335.0 L617.0,346.0 L628.0,354.0 L633.0,359.0 L634.0,366.0" fill="none" stroke="#1b2c9c" stroke-width="1.9" stroke-linejoin="round"/>
<g fill="none" stroke="#0c0a00" stroke-width="1.7" stroke-linejoin="round" stroke-linecap="round"><path d="M255.6,514.0 L259.3,511.9 L264.4,514.0 L284.4,511.9 L285.2,520.0 L299.3,514.8 L303.7,523.0 L307.4,524.4 L305.2,531.9 L308.9,537.0 L303.7,540.7 L296.3,545.2 L291.1,552.6 L289.6,560.0 L291.9,567.4 L288.9,568.6 L280.0,566.0 L269.6,566.7 L258.5,568.9 L254.8,563.0 L255.6,551.0 L262.2,540.7 L259.3,531.9 L259.3,524.4 L255.6,523.0 Z"/><path d="M308.9,537.0 L312.6,539.3 L316.3,543.7 L314.0,549.6 L314.0,561.5 L323.0,560.7 L333.3,560.7 L334.8,565.2 L343.7,566.7 L354.0,568.0 L358.5,574.8 L360.0,580.7 L363.7,581.5 L370.4,574.8 L374.0,566.0 L382.2,563.0 L386.7,562.2"/><path d="M307.4,524.4 L312.6,521.5 L317.0,523.0 L323.0,526.7 L334.8,529.6 L346.7,530.4 L352.6,526.0 L364.4,521.5 L371.0,522.2"/><path d="M307.4,524.4 L303.7,522.2 L300.0,514.8 L305.2,511.0 L307.4,506.7 L314.0,504.4 L322.2,503.0 L321.5,505.0"/><path d="M371.0,522.2 L371.9,527.4 L368.0,535.6 L378.5,544.4 L380.7,554.0 L383.0,563.0" stroke-width="0.7"/><path d="M371.0,522.2 L370.4,518.5 L376.0,514.5 L381.0,511.0 L375.5,508.0 L378.5,505.0 L374.5,501.5" stroke-width="0.8"/><path d="M266.6,590.5 L265.4,596.7 L256.7,602.8 L253.0,607.2 L244.4,604.0 L237.0,602.2 L244.4,597.3" stroke-width="1.1"/></g>
<g font-family="Liberation Sans, sans-serif" font-weight="bold" fill="#1a1400" stroke="#1a1400" stroke-width="0.18" opacity="0.86"><text transform="translate(375,526.6) scale(1.27,1)" font-size="5.0">Vargem</text>
<text transform="translate(380,531.6) scale(1.27,1)" font-size="5.0">Alta</text>
<text transform="translate(540.5,469.5) scale(1.27,1)" font-size="5.8">Vitória</text>
<text transform="translate(476,103) scale(1.27,1)" font-size="5.8">Mucurici</text>
<text transform="translate(398,145) scale(1.27,1)" font-size="5.8" opacity="0.62">Ecoporanga</text>
<text transform="translate(531,126.5) scale(1.27,1)" font-size="5.8">Montanha</text>
<text transform="translate(581,131) scale(1.27,1)" font-size="5.8" opacity="0.62">Pedro</text>
<text transform="translate(581,137) scale(1.27,1)" font-size="5.8" opacity="0.62">Canário</text>
<text transform="translate(474.5,143) scale(1.27,1)" font-size="5.8">Ponto</text>
<text transform="translate(474.5,149.5) scale(1.27,1)" font-size="5.8">Belo</text>
<text transform="translate(541,163) scale(1.27,1)" font-size="5.8" opacity="0.62">Pinheiros</text>
<text transform="translate(610,171) scale(1.27,1)" font-size="5.8" opacity="0.62">Conceição</text>
<text transform="translate(610,177.5) scale(1.27,1)" font-size="5.8" opacity="0.62">da Barra</text>
<text transform="translate(511,178) scale(1.27,1)" font-size="5.8">Boa</text>
<text transform="translate(511,184.5) scale(1.27,1)" font-size="5.8">Esperança</text>
<text transform="translate(381,178) scale(1.27,1)" font-size="5.8" opacity="0.62">Água</text>
<text transform="translate(381,184.5) scale(1.27,1)" font-size="5.8" opacity="0.62">Doce</text>
<text transform="translate(381,191) scale(1.27,1)" font-size="5.8" opacity="0.62">do</text>
<text transform="translate(381,197.5) scale(1.27,1)" font-size="5.8" opacity="0.62">Norte</text>
<text transform="translate(407.5,202) scale(1.27,1)" font-size="5.8">Barra</text>
<text transform="translate(407.5,208) scale(1.27,1)" font-size="5.8">de</text>
<text transform="translate(407.5,214.5) scale(1.27,1)" font-size="5.8">São</text>
<text transform="translate(407.5,221) scale(1.27,1)" font-size="5.8">Francisco</text>
<text transform="translate(454,196) scale(1.27,1)" font-size="5.8">Vila</text>
<text transform="translate(454,202) scale(1.27,1)" font-size="5.8">Pavão</text>
<text transform="translate(460.5,226) scale(1.27,1)" font-size="5.8">Nova</text>
<text transform="translate(460.5,232.5) scale(1.27,1)" font-size="5.8">venécia</text>
<text transform="translate(578,220) scale(1.27,1)" font-size="5.8">São Mateus</text>
<text transform="translate(354,246) scale(1.27,1)" font-size="5.8">Mantenópolis</text>
<text transform="translate(418,252) scale(1.27,1)" font-size="5.8">Águia</text>
<text transform="translate(418,258) scale(1.27,1)" font-size="5.8">Branca</text>
<text transform="translate(474,253) scale(1.27,1)" font-size="5.8">São</text>
<text transform="translate(474,259.5) scale(1.27,1)" font-size="5.8">Gabriel</text>
<text transform="translate(474,266) scale(1.27,1)" font-size="5.8">Palha</text>
<text transform="translate(513,256.5) scale(1.27,1)" font-size="5.8">Vila</text>
<text transform="translate(513,263) scale(1.27,1)" font-size="5.8">Valério</text>
<text transform="translate(576,256) scale(1.27,1)" font-size="5.8">Jaguaré</text>
<text transform="translate(379,260) scale(1.27,1)" font-size="5.8">Alto</text>
<text transform="translate(379,266.5) scale(1.27,1)" font-size="5.8">Rio</text>
<text transform="translate(379,273) scale(1.27,1)" font-size="5.8">Novo</text>
<text transform="translate(554,279.7) scale(1.2,1)" font-size="3.8">Sooretama</text>
<text transform="translate(459,275) scale(1.27,1)" font-size="5.8">São</text>
<text transform="translate(459,281.5) scale(1.27,1)" font-size="5.8">Domingos</text>
<text transform="translate(459,288) scale(1.27,1)" font-size="5.8">do Norte</text>
<text transform="translate(408,289) scale(1.27,1)" font-size="5.8">Pancas</text>
<text transform="translate(464,299) scale(1.27,1)" font-size="5.8">Governador</text>
<text transform="translate(464,305) scale(1.27,1)" font-size="5.8">Lindemberg</text>
<text transform="translate(514,300) scale(1.27,1)" font-size="5.8">Rio</text>
<text transform="translate(514,308) scale(1.27,1)" font-size="5.8">Bananal</text>
<text transform="translate(600,319) scale(1.27,1)" font-size="5.8" opacity="0.62">Linhares</text>
<text transform="translate(465,329) scale(1.27,1)" font-size="5.8">Marilândia</text>
<text transform="translate(436,339.5) scale(1.27,1)" font-size="5.8">Colatina</text>
<text transform="translate(358,367) scale(1.27,1)" font-size="5.8">Baixo</text>
<text transform="translate(358,373) scale(1.27,1)" font-size="5.8">Guandu</text>
<text transform="translate(390,386.5) scale(1.27,1)" font-size="5.8">Itaguaçu</text>
<text transform="translate(484.5,379) scale(1.27,1)" font-size="5.8">João Neiva</text>
<text transform="translate(537,384.5) scale(1.27,1)" font-size="5.8">Aracruz</text>
<text transform="translate(494,397.5) scale(1.27,1)" font-size="5.8">Ibiraçu</text>
<text transform="translate(359.5,400) scale(1.27,1)" font-size="5.8">Laranja</text>
<text transform="translate(359.5,406) scale(1.27,1)" font-size="5.8">da Terra</text>
<text transform="translate(437.5,408) scale(1.27,1)" font-size="5.8">Santa Teresa</text>
<text transform="translate(398,417) scale(1.27,1)" font-size="5.8">Itarana</text>
<text transform="translate(502.5,421) scale(1.27,1)" font-size="5.8">Fundão</text>
<text transform="translate(344,435) scale(1.27,1)" font-size="5.8">Afonso</text>
<text transform="translate(344,441.5) scale(1.27,1)" font-size="5.8">Cláudio</text>
<text transform="translate(411,434) scale(1.27,1)" font-size="5.8">Santa Maria</text>
<text transform="translate(417,440) scale(1.27,1)" font-size="5.8">de Jetibá</text>
<text transform="translate(462.5,447) scale(1.27,1)" font-size="5.8">Santa</text>
<text transform="translate(462.5,453) scale(1.27,1)" font-size="5.8">Leopoldina</text>
<text transform="translate(522,445) scale(1.27,1)" font-size="5.8" opacity="0.62">Serra</text>
<text transform="translate(311,449) scale(1.27,1)" font-size="5.8">Brejetuba</text>
<text transform="translate(255,463) scale(1.27,1)" font-size="5.8" opacity="0.62">Ibatiba</text>
<text transform="translate(238,481.5) scale(1.27,1)" font-size="5.8" opacity="0.62">Irupi</text>
<text transform="translate(266,486) scale(1.27,1)" font-size="5.8" opacity="0.62">Iúna</text>
<text transform="translate(222,501.5) scale(1.27,1)" font-size="5.8" opacity="0.62">Ibitirama</text>
<text transform="translate(269.5,502) scale(1.27,1)" font-size="5.8">Muniz Freire</text>
<text transform="translate(312.5,477.5) scale(1.27,1)" font-size="5.8" opacity="0.62">Conceição</text>
<text transform="translate(312.5,484) scale(1.27,1)" font-size="5.8" opacity="0.62">do Castelo</text>
<text transform="translate(352,481) scale(1.27,1)" font-size="5.8">Venda Nova</text>
<text transform="translate(352,487.5) scale(1.27,1)" font-size="5.8">do Imigrante</text>
<text transform="translate(383,474.5) scale(1.27,1)" font-size="5.8">Domingos Martins</text>
<text transform="translate(411,492.5) scale(1.27,1)" font-size="5.8" opacity="0.62">Marechal</text>
<text transform="translate(411,499) scale(1.27,1)" font-size="5.8" opacity="0.62">Floriano</text>
<text transform="translate(411,512) scale(1.27,1)" font-size="5.8">Alfredo</text>
<text transform="translate(411,518) scale(1.27,1)" font-size="5.8">Chaves</text>
<text transform="translate(483,476.5) scale(1.27,1)" font-size="5.8" opacity="0.62">Cariacica</text>
<text transform="translate(483,491) scale(1.27,1)" font-size="5.8">Viana</text>
<text transform="translate(507.5,502) scale(1.27,1)" font-size="5.8">Vila Velha</text>
<text transform="translate(463,520) scale(1.27,1)" font-size="5.8" opacity="0.62">Guarapari</text>
<text transform="translate(433,543) scale(1.27,1)" font-size="5.8" opacity="0.62">Anchieta</text>
<text transform="translate(333,517.5) scale(1.27,1)" font-size="5.8">Castelo</text>
<text transform="translate(274,539.5) scale(1.27,1)" font-size="5.8" opacity="0.62">Alegre</text>
<text transform="translate(317,537.5) scale(1.27,1)" font-size="5.8" opacity="0.62">Cachoeiro de</text>
<text transform="translate(322,544) scale(1.27,1)" font-size="5.8" opacity="0.62">Itapemirim</text>
<text transform="translate(295,554) scale(1.27,1)" font-size="5.8">Jerônimo</text>
<text transform="translate(295,560) scale(1.27,1)" font-size="5.8">Monteiro</text>
<text transform="translate(224,547) scale(1.27,1)" font-size="5.8">Guaçuí</text>
<text transform="translate(402.5,550) scale(1.27,1)" font-size="5.8">Iconha</text>
<text transform="translate(424,560) scale(1.27,1)" font-size="5.8">Piúma</text>
<text transform="translate(299,578) scale(1.27,1)" font-size="5.8">Muqui</text>
<text transform="translate(337.5,581) scale(1.27,1)" font-size="5.8">Atílio</text>
<text transform="translate(337.5,587) scale(1.27,1)" font-size="5.8">Vivácqua</text>
<text transform="translate(376,580) scale(1.27,1)" font-size="5.8">Itapemirim</text>
<text transform="translate(299,604) scale(1.27,1)" font-size="5.8">Mimoso</text>
<text transform="translate(299,610) scale(1.27,1)" font-size="5.8">do Sul</text>
<text transform="translate(352,608) scale(1.27,1)" font-size="5.8">Presidente</text>
<text transform="translate(352,614) scale(1.27,1)" font-size="5.8">Kennedy</text>
<text transform="translate(397,602) scale(1.27,1)" font-size="5.8">Marataízes</text>
<text transform="translate(258,607.5) scale(1.27,1)" font-size="5.8" opacity="0.62">Apiacá</text>
<text transform="translate(229.5,514.5) scale(1.2,1)" font-size="5.0" opacity="0.62">Divino</text>
<text transform="translate(232,519.5) scale(1.2,1)" font-size="5.0" opacity="0.62">São</text>
<text transform="translate(229.5,524.5) scale(1.2,1)" font-size="5.0" opacity="0.62">Lourenço</text>
<text transform="translate(208,524) scale(1.2,1)" font-size="5.0">Dores</text>
<text transform="translate(208,529) scale(1.2,1)" font-size="5.0" opacity="0.62">do</text>
<text transform="translate(208,534) scale(1.2,1)" font-size="5.0">Rio</text>
<text transform="translate(208,539) scale(1.2,1)" font-size="5.0">Preto</text>
<text transform="translate(394,556.5) scale(1.2,1)" font-size="5.0">Rio</text>
<text transform="translate(394,561.5) scale(1.2,1)" font-size="5.0">Nova</text>
<text transform="translate(394,566.5) scale(1.2,1)" font-size="5.0">do Sul</text>
<text transform="translate(235,579) scale(1.2,1)" font-size="5.0" opacity="0.62">São</text>
<text transform="translate(235,584.5) scale(1.2,1)" font-size="5.0" opacity="0.62">José do</text>
<text transform="translate(235,590) scale(1.2,1)" font-size="5.0" opacity="0.62">Calçado</text>
<text transform="translate(258.5,597.2) scale(1.1,1)" font-size="3.2">Bom</text>
<text transform="translate(242.5,600.6) scale(1.1,1)" font-size="3.2">Jesus do</text>
<text transform="translate(243.5,603.6) scale(1.1,1)" font-size="3.2">Norte</text>
<text transform="translate(440,377.6) scale(0.9,1)" font-size="5.6" font-weight="normal" fill="#555522">São Roque</text>
<text transform="translate(440,385) scale(0.9,1)" font-size="5.6" font-weight="normal" fill="#555522">do Canaã</text></g>
</g>
<g font-family="Liberation Sans, sans-serif" font-weight="bold" font-size="26.6"><rect x="206" y="638" width="381" height="123" fill="#e9e9e9"/>
<text x="237.4" y="664.5" fill="#c00000" stroke="#c00000" stroke-width="0.8" stroke-linejoin="round" textLength="227.7" lengthAdjust="spacingAndGlyphs">RISCO EXTREMO</text>
<text x="521.6" y="664.5" fill="#c00000" stroke="#c00000" stroke-width="0.8" stroke-linejoin="round" textLength="33.7" lengthAdjust="spacingAndGlyphs">00</text>
<text x="237.4" y="693.5" fill="#ee0000" stroke="#ee0000" stroke-width="0.8" stroke-linejoin="round" textLength="166.2" lengthAdjust="spacingAndGlyphs">RISCO ALTO</text>
<text x="523.2" y="693.5" fill="#ee0000" stroke="#ee0000" stroke-width="0.8" stroke-linejoin="round" textLength="33.7" lengthAdjust="spacingAndGlyphs">24</text>
<text x="235.6" y="722.7" fill="#f5a80a" stroke="#f5a80a" stroke-width="0.8" stroke-linejoin="round" textLength="256.7" lengthAdjust="spacingAndGlyphs">RISCO MODERADO</text>
<text x="523.2" y="722.7" fill="#f5a80a" stroke="#f5a80a" stroke-width="0.8" stroke-linejoin="round" textLength="33.7" lengthAdjust="spacingAndGlyphs">46</text>
<text x="236.9" y="752" fill="#55b52e" stroke="#55b52e" stroke-width="0.8" stroke-linejoin="round" textLength="183.7" lengthAdjust="spacingAndGlyphs">RISCO BAIXO</text>
<text x="523.2" y="752" fill="#55b52e" stroke="#55b52e" stroke-width="0.8" stroke-linejoin="round" textLength="33.7" lengthAdjust="spacingAndGlyphs">08</text></g>
<g font-family="Liberation Sans, sans-serif" font-weight="bold" font-size="26.6"><rect x="781" y="639.5" width="381" height="123" fill="#e9e9e9"/>
<text x="811.1999999999999" y="666.7" fill="#c00000" stroke="#c00000" stroke-width="0.8" stroke-linejoin="round" textLength="227.7" lengthAdjust="spacingAndGlyphs">RISCO EXTREMO</text>
<text x="1096.6000000000001" y="666.7" fill="#c00000" stroke="#c00000" stroke-width="0.8" stroke-linejoin="round" textLength="33.7" lengthAdjust="spacingAndGlyphs">00</text>
<text x="811.1999999999999" y="696.5" fill="#ee0000" stroke="#ee0000" stroke-width="0.8" stroke-linejoin="round" textLength="166.2" lengthAdjust="spacingAndGlyphs">RISCO ALTO</text>
<text x="1098.2" y="696.5" fill="#ee0000" stroke="#ee0000" stroke-width="0.8" stroke-linejoin="round" textLength="33.7" lengthAdjust="spacingAndGlyphs">27</text>
<text x="809.4" y="725.6" fill="#f5a80a" stroke="#f5a80a" stroke-width="0.8" stroke-linejoin="round" textLength="256.7" lengthAdjust="spacingAndGlyphs">RISCO MODERADO</text>
<text x="1098.2" y="725.6" fill="#f5a80a" stroke="#f5a80a" stroke-width="0.8" stroke-linejoin="round" textLength="33.7" lengthAdjust="spacingAndGlyphs">42</text>
<text x="810.6999999999999" y="754.5" fill="#55b52e" stroke="#55b52e" stroke-width="0.8" stroke-linejoin="round" textLength="183.7" lengthAdjust="spacingAndGlyphs">RISCO BAIXO</text>
<text x="1098.2" y="754.5" fill="#55b52e" stroke="#55b52e" stroke-width="0.8" stroke-linejoin="round" textLength="33.7" lengthAdjust="spacingAndGlyphs">09</text></g>
<rect x="0.5" y="766.8" width="1439.5" height="41.1" fill="#ff00fb"/>
<text x="517" y="796.5" font-family="Liberation Sans, sans-serif" font-weight="bold" font-style="italic" font-size="23.2" fill="#ffffff" stroke="#ff00fb" stroke-width="0.5" textLength="406.5" lengthAdjust="spacingAndGlyphs">Governo do Estado do Espírito Santo</text>
</svg>
</body></html>
